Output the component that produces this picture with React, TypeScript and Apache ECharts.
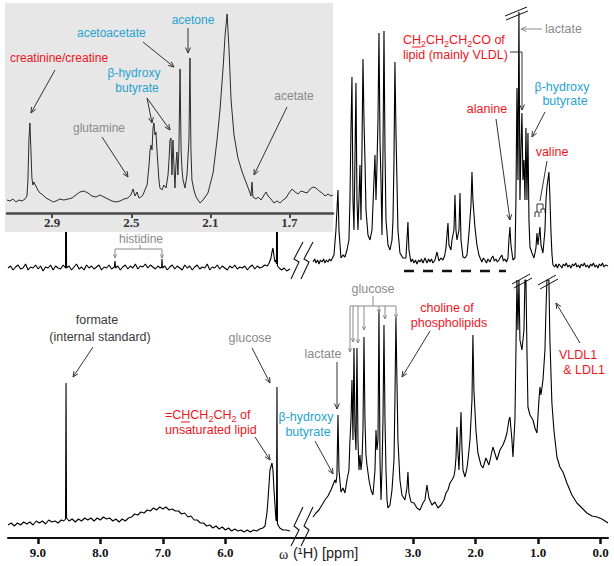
import React, { useEffect, useRef } from "react";
import * as echarts from "echarts";

// tick labels (ppm)
const MAIN_TICKS = [9, 8, 7, 6, 3, 2, 1, 0];
const INSET_TICKS = [2.9, 2.5, 2.1, 1.7];

// bottom (full-scale) spectrum: [ppm, intensity]
const BOTTOM_LEFT: number[][] = [
  [9.475, 13], [9.425, 15], [9.375, 12], [9.325, 15], [9.275, 13], [9.225, 16], [9.175, 14], [9.125, 16], [9.075, 13], [9.025, 17],
  [8.975, 15], [8.925, 17], [8.875, 14], [8.825, 18], [8.775, 16], [8.725, 17], [8.675, 15], [8.625, 18], [8.585, 17], [8.556, 19],
  [8.548, 155], [8.54, 20], [8.5, 17], [8.45, 19], [8.4, 16], [8.35, 19], [8.3, 17], [8.25, 20], [8.2, 18], [8.15, 20],
  [8.1, 17], [8.05, 20], [8.0, 18], [7.95, 21], [7.9, 19], [7.85, 20], [7.8, 17], [7.75, 19], [7.7, 16], [7.65, 19],
  [7.6, 17], [7.55, 20], [7.5, 21], [7.45, 24], [7.4, 23], [7.35, 26], [7.3, 25], [7.25, 28], [7.2, 27], [7.15, 30],
  [7.1, 28], [7.05, 31], [7.0, 29], [6.95, 31], [6.9, 28], [6.85, 29], [6.8, 27], [6.75, 27], [6.7, 24], [6.65, 25],
  [6.6, 21], [6.55, 22], [6.5, 18], [6.45, 18], [6.4, 15], [6.35, 15], [6.3, 12], [6.25, 13], [6.2, 10], [6.15, 12],
  [6.1, 9], [6.05, 11], [6.0, 8], [5.95, 10], [5.9, 7], [5.85, 9], [5.8, 7], [5.75, 8], [5.7, 6], [5.65, 8],
  [5.6, 6], [5.55, 8], [5.5, 7], [5.45, 9], [5.4, 10], [5.367, 12], [5.335, 25], [5.319, 38], [5.287, 68], [5.255, 75],
  [5.239, 68], [5.223, 48], [5.207, 33], [5.191, 18], [5.183, 17], [5.175, 151], [5.167, 14], [5.13, 10], [5.08, 8], [5.03, 8],
  [4.967, 7]
];
const BOTTOM_RIGHT: number[][] = [
  [4.599, 21], [4.552, 25], [4.504, 28], [4.456, 33], [4.408, 38], [4.36, 42], [4.312, 48], [4.28, 53], [4.248, 58], [4.232, 55],
  [4.216, 63], [4.2, 123], [4.184, 68], [4.152, 46], [4.12, 50], [4.088, 45], [4.056, 58], [4.024, 68], [4.008, 98], [3.992, 118],
  [3.976, 158], [3.96, 98], [3.944, 190], [3.928, 108], [3.912, 88], [3.896, 190], [3.88, 98], [3.864, 68], [3.848, 83], [3.832, 68],
  [3.816, 78], [3.8, 108], [3.784, 201], [3.768, 118], [3.752, 83], [3.736, 73], [3.704, 58], [3.672, 48], [3.64, 43], [3.608, 68],
  [3.592, 108], [3.576, 88], [3.56, 98], [3.544, 228], [3.528, 78], [3.512, 38], [3.496, 68], [3.48, 118], [3.464, 213], [3.448, 118],
  [3.432, 68], [3.416, 38], [3.4, 30], [3.368, 33], [3.336, 48], [3.304, 78], [3.289, 138], [3.273, 220], [3.257, 158], [3.241, 98],
  [3.209, 58], [3.177, 43], [3.129, 38], [3.097, 50], [3.081, 66], [3.065, 45], [3.033, 36], [2.985, 35], [2.937, 30], [2.889, 28],
  [2.841, 35], [2.809, 38], [2.777, 53], [2.745, 40], [2.697, 33], [2.649, 36], [2.601, 30], [2.553, 33], [2.505, 38], [2.473, 45],
  [2.441, 48], [2.409, 55], [2.377, 58], [2.345, 62], [2.329, 68], [2.313, 80], [2.297, 111], [2.281, 85], [2.265, 68], [2.249, 95],
  [2.233, 126], [2.217, 90], [2.201, 68], [2.169, 61], [2.137, 70], [2.121, 78], [2.089, 98], [2.057, 138], [2.042, 203], [2.026, 148],
  [1.994, 108], [1.962, 85], [1.914, 73], [1.882, 70], [1.834, 80], [1.786, 73], [1.722, 91], [1.658, 78], [1.61, 88], [1.562, 93],
  [1.53, 98], [1.498, 105], [1.466, 118], [1.45, 121], [1.418, 98], [1.402, 81], [1.37, 118], [1.354, 188], [1.338, 258], [1.322, 208],
  [1.306, 258], [1.29, 198], [1.258, 188], [1.226, 208], [1.21, 258], [1.194, 258], [1.178, 188], [1.162, 131], [1.13, 123], [1.082, 118],
  [1.05, 110], [1.018, 105], [0.986, 138], [0.97, 151], [0.954, 143], [0.922, 158], [0.89, 188], [0.874, 228], [0.858, 258], [0.827, 258],
  [0.811, 198], [0.779, 135], [0.747, 108], [0.699, 81], [0.651, 71], [0.603, 66], [0.539, 55], [0.459, 43], [0.379, 35], [0.299, 30],
  [0.219, 25], [0.139, 22], [0.059, 21], [-0.021, 19], [-0.118, 15]
];

// top (vertically expanded) spectrum: [ppm, intensity]
const TOP_LEFT: number[][] = [
  [9.475, 12], [9.435, 14], [9.395, 10], [9.355, 13], [9.315, 15], [9.275, 11], [9.235, 12], [9.195, 16], [9.155, 10], [9.115, 13],
  [9.075, 12], [9.035, 15], [8.995, 11], [8.955, 14], [8.915, 9], [8.875, 13], [8.835, 12], [8.795, 15], [8.755, 10], [8.715, 14],
  [8.675, 12], [8.635, 11], [8.595, 15], [8.556, 12], [8.548, 250], [8.54, 12], [8.5, 14], [8.46, 10], [8.42, 13], [8.38, 16],
  [8.34, 11], [8.3, 13], [8.26, 10], [8.22, 15], [8.18, 12], [8.14, 14], [8.1, 11], [8.06, 13], [8.02, 15], [7.98, 10],
  [7.94, 13], [7.9, 12], [7.86, 15], [7.82, 11], [7.775, 13], [7.765, 19], [7.755, 12], [7.72, 14], [7.68, 10], [7.64, 13],
  [7.6, 15], [7.56, 11], [7.52, 14], [7.48, 12], [7.44, 16], [7.4, 11], [7.36, 14], [7.32, 13], [7.28, 16], [7.24, 12],
  [7.2, 15], [7.16, 13], [7.12, 11], [7.08, 14], [7.04, 12], [7.019, 13], [7.013, 21], [7.007, 12], [6.97, 14], [6.93, 10],
  [6.89, 13], [6.85, 15], [6.81, 11], [6.77, 14], [6.73, 12], [6.69, 10], [6.65, 15], [6.61, 12], [6.57, 14], [6.53, 10],
  [6.49, 13], [6.45, 15], [6.41, 11], [6.37, 13], [6.33, 12], [6.29, 16], [6.25, 10], [6.21, 13], [6.17, 12], [6.13, 15],
  [6.09, 11], [6.05, 14], [6.01, 12], [5.97, 10], [5.93, 14], [5.89, 12], [5.85, 15], [5.81, 11], [5.77, 13], [5.73, 12],
  [5.69, 14], [5.65, 10], [5.61, 13], [5.57, 15], [5.53, 11], [5.49, 14], [5.45, 12], [5.41, 13], [5.37, 15], [5.33, 14],
  [5.3, 17], [5.271, 22], [5.255, 28], [5.239, 32], [5.223, 24], [5.207, 18], [5.191, 20], [5.183, 16], [5.175, 250], [5.167, 14],
  [5.14, 12], [5.1, 10], [5.06, 12], [5.02, 9], [4.967, 11]
];
const TOP_RIGHT: number[][] = [
  [4.599, 18], [4.57, 21], [4.552, 17], [4.525, 20], [4.504, 16], [4.48, 20], [4.456, 18], [4.43, 21], [4.408, 17], [4.385, 20],
  [4.36, 18], [4.335, 21], [4.312, 19], [4.264, 25], [4.232, 50], [4.216, 70], [4.2, 90], [4.184, 50], [4.152, 22], [4.12, 25],
  [4.088, 23], [4.056, 30], [4.024, 40], [4.008, 80], [3.992, 150], [3.976, 203], [3.96, 80], [3.944, 50], [3.928, 120], [3.912, 197],
  [3.896, 80], [3.88, 50], [3.864, 80], [3.848, 115], [3.832, 60], [3.816, 130], [3.8, 221], [3.784, 160], [3.768, 120], [3.752, 70],
  [3.72, 45], [3.688, 40], [3.656, 50], [3.624, 100], [3.608, 125], [3.592, 80], [3.576, 115], [3.56, 160], [3.544, 247], [3.528, 140],
  [3.512, 100], [3.496, 45], [3.48, 130], [3.464, 249], [3.448, 130], [3.432, 60], [3.4, 35], [3.368, 30], [3.336, 40], [3.32, 60],
  [3.304, 120], [3.289, 218], [3.273, 150], [3.257, 100], [3.241, 50], [3.209, 27], [3.161, 22], [3.113, 22], [3.097, 40], [3.081, 58],
  [3.065, 30], [3.033, 18], [3.01, 21], [2.985, 17], [2.96, 20], [2.937, 16], [2.91, 20], [2.889, 18], [2.865, 21], [2.841, 17],
  [2.809, 22], [2.777, 17], [2.75, 21], [2.729, 18], [2.705, 21], [2.681, 17], [2.649, 20], [2.617, 28], [2.585, 19], [2.553, 22],
  [2.521, 20], [2.495, 24], [2.473, 32], [2.441, 57], [2.425, 35], [2.393, 30], [2.377, 40], [2.345, 50], [2.329, 85], [2.313, 50],
  [2.297, 40], [2.265, 50], [2.249, 87], [2.233, 40], [2.201, 23], [2.169, 22], [2.137, 25], [2.105, 47], [2.073, 75], [2.057, 108],
  [2.042, 80], [2.01, 53], [1.978, 35], [1.946, 25], [1.92, 21], [1.898, 18], [1.875, 22], [1.85, 20], [1.825, 17], [1.802, 21],
  [1.77, 18], [1.745, 22], [1.722, 24], [1.7, 19], [1.674, 21], [1.65, 18], [1.626, 20], [1.6, 23], [1.578, 25], [1.555, 19],
  [1.53, 21], [1.505, 18], [1.482, 22], [1.466, 40], [1.45, 53], [1.434, 35], [1.402, 20], [1.37, 22], [1.354, 80], [1.338, 192],
  [1.322, 100], [1.306, 268], [1.29, 80], [1.274, 130], [1.258, 167], [1.242, 100], [1.226, 120], [1.21, 80], [1.194, 152], [1.178, 80],
  [1.162, 147], [1.146, 60], [1.13, 33], [1.098, 27], [1.066, 22], [1.034, 32], [1.018, 47], [1.002, 35], [0.97, 53], [0.954, 35],
  [0.922, 27], [0.89, 50], [0.874, 80], [0.858, 93], [0.843, 100], [0.827, 108], [0.811, 83], [0.795, 50], [0.779, 27], [0.763, 15],
  [0.735, 13], [0.715, 16], [0.69, 12], [0.667, 16], [0.64, 14], [0.619, 12], [0.595, 16], [0.571, 14], [0.55, 17], [0.523, 13],
  [0.5, 15], [0.475, 12], [0.45, 16], [0.427, 14], [0.4, 17], [0.379, 13], [0.355, 15], [0.331, 12], [0.31, 16], [0.283, 14],
  [0.26, 17], [0.235, 13], [0.21, 15], [0.187, 12], [0.16, 16], [0.139, 14], [0.115, 17], [0.091, 13], [0.067, 15], [0.043, 12],
  [0.02, 16], [-0.005, 14], [-0.03, 17], [-0.053, 13], [-0.08, 15], [-0.118, 14]
];

// inset (3.1 - 1.5 ppm expansion): [ppm, intensity]
const INSET_DATA: number[][] = [
  [3.129, 13], [3.114, 12], [3.099, 14], [3.084, 11], [3.068, 13], [3.053, 12], [3.038, 14], [3.028, 17], [3.023, 33], [3.018, 73],
  [3.013, 90], [3.008, 63], [3.003, 35], [2.998, 28], [2.993, 31], [2.983, 27], [2.973, 23], [2.962, 20], [2.947, 18], [2.932, 15],
  [2.912, 13], [2.897, 11], [2.881, 12], [2.861, 14], [2.841, 13], [2.82, 14], [2.8, 15], [2.78, 18], [2.76, 21], [2.739, 22],
  [2.719, 20], [2.699, 17], [2.679, 16], [2.659, 18], [2.638, 16], [2.618, 14], [2.598, 12], [2.577, 11], [2.557, 12], [2.537, 14],
  [2.517, 15], [2.502, 18], [2.491, 24], [2.481, 17], [2.471, 21], [2.461, 15], [2.451, 16], [2.441, 18], [2.431, 23], [2.42, 28],
  [2.41, 48], [2.405, 63], [2.4, 68], [2.395, 63], [2.39, 85], [2.385, 90], [2.38, 78], [2.375, 81], [2.37, 63], [2.365, 48],
  [2.36, 33], [2.355, 25], [2.345, 23], [2.335, 28], [2.324, 25], [2.314, 38], [2.309, 53], [2.304, 73], [2.299, 75], [2.294, 38],
  [2.289, 73], [2.284, 48], [2.279, 25], [2.274, 48], [2.269, 61], [2.264, 38], [2.259, 63], [2.253, 144], [2.248, 63], [2.243, 43],
  [2.238, 33], [2.228, 25], [2.218, 38], [2.208, 73], [2.203, 155], [2.198, 63], [2.193, 33], [2.183, 23], [2.172, 16], [2.162, 13],
  [2.152, 10], [2.137, 13], [2.112, 20], [2.086, 40], [2.066, 73], [2.051, 103], [2.035, 146], [2.025, 178], [2.015, 199], [2.005, 163],
  [1.995, 113], [1.98, 78], [1.96, 55], [1.939, 41], [1.914, 28], [1.899, 20], [1.894, 17], [1.889, 31], [1.884, 16], [1.868, 14],
  [1.858, 16], [1.843, 13], [1.828, 18], [1.818, 21], [1.808, 17], [1.793, 14], [1.778, 10], [1.762, 12], [1.747, 10], [1.732, 13],
  [1.717, 15], [1.702, 20], [1.686, 24], [1.671, 21], [1.656, 19], [1.641, 22], [1.626, 21], [1.61, 20], [1.595, 24], [1.58, 26],
  [1.565, 25], [1.549, 22], [1.534, 20], [1.519, 17], [1.504, 19], [1.489, 17], [1.479, 18]
];

const RED = "#f0141c";
const CYAN = "#27a3cf";
const GREY = "#8a8a8a";
const DARK = "#333333";
const SANS = '"Liberation Sans", Arial, sans-serif';
const SERIF = '"Liberation Serif", "Times New Roman", serif';

function txt(text: string, x: number, y: number, color: string, size = 12, align = "center"): any {
  return {
    type: "text", x, y, z: 20, silent: true,
    style: { text, fill: color, font: `${size}px ${SANS}`, align, verticalAlign: "middle", textAlign: align, textVerticalAlign: "middle" }
  };
}
function seg(x1: number, y1: number, x2: number, y2: number, color = DARK, w = 1): any {
  return { type: "line", z: 20, silent: true, shape: { x1, y1, x2, y2 }, style: { stroke: color, lineWidth: w } };
}
function arrow(x1: number, y1: number, x2: number, y2: number, color = DARK, h = 6): any[] {
  const a = Math.atan2(y2 - y1, x2 - x1);
  const s = 0.42;
  return [
    seg(x1, y1, x2, y2, color),
    {
      type: "polyline", z: 20, silent: true,
      shape: { points: [[x2 - h * Math.cos(a - s), y2 - h * Math.sin(a - s)], [x2, y2], [x2 - h * Math.cos(a + s), y2 - h * Math.sin(a + s)]] },
      style: { stroke: color, lineWidth: 1, fill: "none" }
    }
  ];
}
function poly(points: number[][], color = "#111", w = 1.1): any {
  return { type: "polyline", z: 20, silent: true, shape: { points }, style: { stroke: color, lineWidth: w, fill: "none" } };
}
function richChem(text: string, x: number, y: number, size: number): any {
  const base = { fontSize: size, fontFamily: SANS, fill: RED, lineHeight: 16, verticalAlign: "middle" };
  return {
    type: "text", x, y, z: 20, silent: true,
    style: {
      text, align: "left", verticalAlign: "middle", textAlign: "left", textVerticalAlign: "middle",
      font: `${size}px ${SANS}`, fill: RED,
      rich: { a: base, s: { fontSize: 9, fontFamily: SANS, fill: RED, lineHeight: 10, verticalAlign: "bottom" } }
    }
  };
}

export default function App() {
  const ref = useRef<HTMLDivElement>(null);
  useEffect(() => {
    if (!ref.current) return;
    const chart = echarts.init(ref.current, null, { renderer: "svg" });
    const lineSeries = (data: number[][], xi: number, color: string, z: number, w: number) => ({
      type: "line", data, xAxisIndex: xi, yAxisIndex: xi, symbol: "none", showSymbol: false, silent: true, z,
      lineStyle: { color, width: w }, clip: true
    });
    const graphics: any[] = [
      { type: "rect", z: 3, silent: true, shape: { x: 5, y: 3, width: 328, height: 229 }, style: { fill: "#e7e7e7" } },
      // inset labels
      txt("creatinine/creatine", 10, 58, RED, 12, "left"),
      txt("acetoacetate", 77, 33, CYAN, 12, "left"),
      txt("acetone", 193, 20, CYAN),
      txt("β-hydroxy", 134, 73, CYAN),
      txt("butyrate", 137, 88, CYAN),
      txt("glutamine", 99, 128, GREY),
      txt("acetate", 294, 96, GREY),
      ...arrow(55, 70, 31, 113),
      ...arrow(102, 137, 128, 177),
      ...arrow(147, 98, 152, 123),
      ...arrow(147, 98, 170, 130),
      ...arrow(143, 42, 174, 67),
      ...arrow(188, 28, 188, 53),
      ...arrow(287, 107, 254, 175),
      // top spectrum labels
      richChem("{a|C}{a|H}{s|2}{a|CH}{s|2}{a|CH}{s|2}{a|CO of}", 403, 40, 12.5),
      seg(412, 47, 421, 47, RED),
      txt("lipid (mainly VLDL)", 403, 55, RED, 12.5, "left"),
      seg(510, 52, 522, 52),
      ...arrow(522, 52, 522, 110),
      txt("lactate", 545, 29, GREY, 12.5, "left"),
      ...arrow(542, 29, 521, 29, GREY),
      txt("β-hydroxy", 562, 87, CYAN, 12.5),
      txt("butyrate", 565, 101, CYAN, 12.5),
      ...arrow(545, 112, 532, 137),
      txt("alanine", 487, 109, RED, 12.5),
      ...arrow(496, 119, 510, 220),
      txt("valine", 552, 152, RED, 12.5),
      seg(547, 161, 540, 201),
      poly([[537, 212], [537, 204], [543, 204], [543, 209]], DARK, 1),
      poly([[535, 217], [535, 212], [539, 212], [539, 217]], DARK, 1),
      poly([[541, 213], [541, 209], [545, 209], [545, 213]], DARK, 1),
      txt("histidine", 141, 239, GREY),
      seg(140, 245, 140, 249, GREY),
      seg(115, 249, 162, 249, GREY),
      ...arrow(115, 249, 115, 258, GREY, 4),
      ...arrow(162, 249, 162, 258, GREY, 4),
      { type: "line", z: 20, silent: true, shape: { x1: 404, y1: 271, x2: 506, y2: 271 }, style: { stroke: "#111", lineWidth: 2.5, lineDash: [10, 9] } },
      seg(505, 16, 527, 7, "#111"),
      seg(506, 20, 528, 11, "#111"),
      // breaks
      poly([[291, 279], [299, 262], [294, 259], [303, 242]]),
      poly([[301, 279], [309, 262], [304, 259], [313, 242]]),
      poly([[291, 546], [299, 530], [294, 526], [303, 507]]),
      poly([[301, 546], [309, 530], [304, 526], [313, 507]]),
      seg(512, 284, 530, 274, "#111"),
      seg(514, 288, 532, 278, "#111"),
      seg(538, 285, 556, 275, "#111"),
      seg(540, 289, 558, 279, "#111"),
      // bottom spectrum labels
      txt("formate", 97, 320, "#3a3a3a", 12.5),
      txt("(internal standard)", 100, 337, "#3a3a3a", 12.5),
      ...arrow(93, 347, 73, 377),
      txt("glucose", 250, 338, GREY, 12.5),
      ...arrow(252, 348, 270, 383),
      richChem("{a|=C}{a|H}{a|CH}{s|2}{a|CH}{s|2}{a| of}", 165, 415, 12.5),
      seg(181, 422, 190, 422, RED),
      txt("unsaturated lipid", 165, 430, RED, 12.5, "left"),
      ...arrow(255, 437, 270, 460),
      txt("β-hydroxy", 306, 417, CYAN, 12.5),
      txt("butyrate", 308, 432, CYAN, 12.5),
      ...arrow(315, 441, 333, 474),
      txt("lactate", 323, 354, GREY, 12.5),
      ...arrow(337, 362, 337, 409),
      txt("glucose", 373, 289, GREY, 12.5),
      seg(373, 296, 373, 306, GREY),
      seg(350, 306, 396, 306, GREY),
      ...arrow(350, 306, 350, 352, GREY, 4),
      ...arrow(353, 306, 353, 342, GREY, 4),
      ...arrow(358, 306, 358, 343, GREY, 4),
      ...arrow(364, 306, 364, 330, GREY, 4),
      ...arrow(379, 306, 379, 313, GREY, 4),
      ...arrow(385, 306, 385, 319, GREY, 4),
      ...arrow(396, 306, 396, 318, GREY, 4),
      txt("choline of", 447, 308, RED, 12.5),
      txt("phospholipids", 449, 323, RED, 12.5),
      ...arrow(430, 331, 402, 377),
      txt("VLDL1", 578, 355, RED, 12.5),
      txt("& LDL1", 584, 370, RED, 12.5),
      ...arrow(580, 343, 556, 303),
      // axis name
      { type: "text", x: 279, y: 554, z: 20, silent: true, style: { text: "ω", fill: "#222", font: `14px ${SERIF}`, align: "left", verticalAlign: "middle", textAlign: "left", textVerticalAlign: "middle" } },
      { type: "text", x: 293, y: 553, z: 20, silent: true, style: { text: "(¹H) [ppm]", fill: "#222", font: `14.5px ${SANS}`, align: "left", verticalAlign: "middle", textAlign: "left", textVerticalAlign: "middle" } }
    ];
    const mainMin = -0.118;
    const mainMax = 9.476;
    chart.setOption({
      animation: false,
      backgroundColor: "#ffffff",
      grid: [
        { left: 8, right: 6, top: 272, bottom: 28 },
        { left: 8, right: 6, top: 0, bottom: 286 },
        { left: 7, right: 281, top: 3, bottom: 353 }
      ],
      xAxis: [
        {
          type: "value", gridIndex: 0, min: mainMin, max: mainMax, inverse: true,
          axisLine: { show: true, onZero: false, lineStyle: { color: "#111", width: 2 } },
          axisTick: { show: true, length: 6, lineStyle: { color: "#111", width: 2.5 }, customValues: MAIN_TICKS },
          axisLabel: {
            show: true, customValues: MAIN_TICKS, margin: 8, formatter: (v: number) => v.toFixed(1),
            fontFamily: "Liberation Serif", fontWeight: "bold", fontSize: 13, color: "#111"
          },
          splitLine: { show: false }
        },
        { type: "value", gridIndex: 1, min: mainMin, max: mainMax, inverse: true, show: false },
        {
          type: "value", gridIndex: 2, min: 1.479, max: 3.129, inverse: true, z: 5,
          axisLine: { show: true, onZero: false, lineStyle: { color: "#4a4a4a", width: 2.5 } },
          axisTick: { show: true, length: 5, lineStyle: { color: "#4a4a4a", width: 2 }, customValues: INSET_TICKS },
          axisLabel: {
            show: true, customValues: INSET_TICKS, margin: 3, formatter: (v: number) => v.toFixed(1),
            fontFamily: "Liberation Serif", fontWeight: "bold", fontSize: 13, color: "#333"
          },
          splitLine: { show: false }
        }
      ],
      yAxis: [
        { type: "value", gridIndex: 0, min: 0, max: 266, show: false },
        { type: "value", gridIndex: 1, min: 0, max: 280, show: false },
        { type: "value", gridIndex: 2, min: 0, max: 210, show: false }
      ],
      series: [
        lineSeries(BOTTOM_LEFT, 0, "#000", 2, 1.1),
        lineSeries(BOTTOM_RIGHT, 0, "#000", 2, 1.1),
        lineSeries(TOP_LEFT, 1, "#000", 2, 1.1),
        lineSeries(TOP_RIGHT, 1, "#000", 2, 1.1),
        lineSeries(INSET_DATA, 2, "#2b2b2b", 4, 1)
      ],
      graphic: { elements: graphics }
    });
    return () => chart.dispose();
  }, []);
  return <div ref={ref} style={{ position: "fixed", left: 0, top: 0, width: 614, height: 566, background: "#fff" }} />;
}
